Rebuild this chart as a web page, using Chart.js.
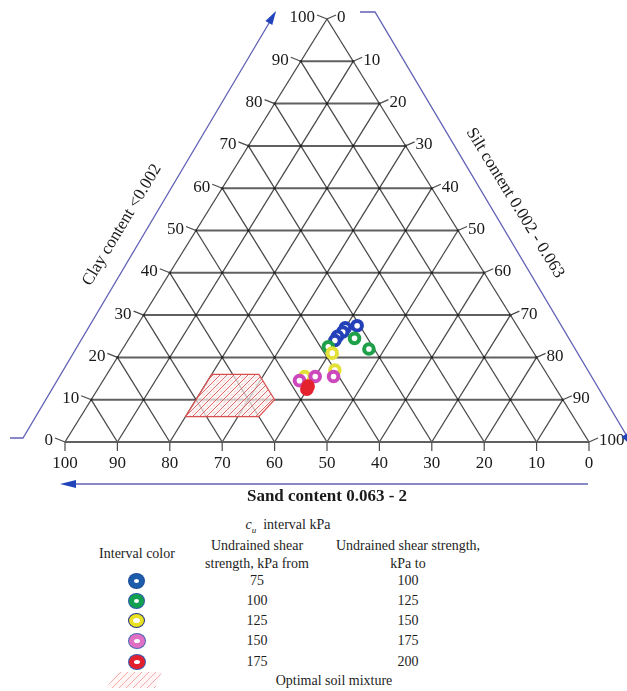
<!DOCTYPE html>
<html><head><meta charset="utf-8">
<script src="https://cdn.jsdelivr.net/npm/chart.js@4.4.0/dist/chart.umd.min.js"></script>
<style>
html,body{margin:0;padding:0;background:#fff;}
#wrap{position:relative;width:627px;height:691px;overflow:hidden;font-family:"Liberation Serif","Times New Roman",serif;color:#1e1e1e;}
#box{position:absolute;left:0;top:0;width:627px;height:510px;}
.t{position:absolute;width:300px;text-align:center;font-size:14px;line-height:16px;white-space:nowrap;}
.ring{position:absolute;border-radius:50%;box-sizing:content-box;background:#fff;}
</style></head><body>
<div id="wrap">
<div id="box"><canvas id="cv" width="627" height="510"></canvas></div>
<div id="legend"></div>
</div>
<script>
// ---------- data ----------
const clayTicks = [0,10,20,30,40,50,60,70,80,90,100];
const siltTicks = [0,10,20,30,40,50,60,70,80,90,100];
const sandTicks = [100,90,80,70,60,50,40,30,20,10,0];
const gridSteps = [10,20,30,40,50,60,70,80,90];

const blueSand = [30.5, 33, 34, 35.5, 36.5];
const blueClay = [27.5, 27, 26, 25, 24];
const greenSand = [32.5, 31, 38.5];
const greenClay = [24.5, 22, 22.5];
const yellowSand = [38.5, 40, 46.5];
const yellowClay = [21, 17, 15.5];
const magentaSand = [48, 44.5, 41];
const magentaClay = [14.5, 15.5, 15.5];
const redSand = [47.6, 47.0];
const redClay = [12.5, 13.2];

const optimalSand = [64, 55, 55, 60, 74];
const optimalClay = [16, 16, 10, 6, 6];

const legendFrom = [75, 100, 125, 150, 175];
const legendTo = [100, 125, 150, 175, 200];

// ---------- helpers ----------
function P(sand, clay){ return {x: 100 - sand - clay/2, y: clay}; }

const colors = {blue:'#2340b8', green:'#1ea04a', yellow:'#e4e03a', magenta:'#cc48bc', red:'#e3222e'};
const series = [
  {sand: redSand, clay: redClay, color: colors.red, fill: colors.red},
  {sand: magentaSand, clay: magentaClay, color: colors.magenta, fill: '#fff'},
  {sand: yellowSand, clay: yellowClay, color: colors.yellow, fill: '#fff'},
  {sand: greenSand, clay: greenClay, color: colors.green, fill: '#fff'},
  {sand: blueSand, clay: blueClay, color: colors.blue, fill: '#fff'}
];

const cv = document.getElementById('cv');
function makePattern(){
  const c = document.createElement('canvas'); c.width = 7; c.height = 7;
  const g = c.getContext('2d');
  g.fillStyle = 'rgba(255,242,242,0.7)'; g.fillRect(0,0,7,7);
  g.strokeStyle = 'rgba(214,80,80,0.85)'; g.lineWidth = 1;
  g.beginPath();
  g.moveTo(0,7); g.lineTo(7,0);
  g.moveTo(-1,1); g.lineTo(1,-1);
  g.moveTo(6,8); g.lineTo(8,6);
  g.stroke();
  g.strokeStyle = 'rgba(170,140,150,0.45)';
  g.setLineDash([2,2]);
  g.beginPath(); g.moveTo(0,3.5); g.lineTo(3.5,0); g.moveTo(3.5,7); g.lineTo(7,3.5); g.stroke();
  return cv.getContext('2d').createPattern(c, 'repeat');
}

const datasets = [];
series.forEach(s => {
  datasets.push({
    data: s.sand.map((v,i) => P(v, s.clay[i])),
    showLine: false, pointRadius: 4.8, pointHoverRadius: 4.8,
    pointBorderWidth: 4, pointBorderColor: s.color, pointBackgroundColor: s.fill,
    order: 0, clip: false
  });
});
const poly = optimalSand.map((v,i) => P(v, optimalClay[i]));
poly.push(poly[0]);
datasets.push({
  data: poly, showLine: true, fill: 'shape', backgroundColor: makePattern(),
  borderColor: '#d65050', borderWidth: 1.2, pointRadius: 0, tension: 0, order: 1, clip: false
});
function gridLine(a, b, horiz){
  datasets.push({data:[a,b], showLine:true, borderColor: horiz ? '#606060' : '#4a4a4a',
    borderWidth: horiz ? 2 : 1.3, pointRadius:0, fill:false, order:2, clip:false});
}
// edges
gridLine({x:0,y:0},{x:100,y:0}, true);
gridLine({x:0,y:0},{x:50,y:100}, false);
gridLine({x:100,y:0},{x:50,y:100}, false);
gridSteps.forEach(k => {
  gridLine({x:k/2, y:k}, {x:100-k/2, y:k}, true);        // clay = k
  gridLine(P(k, 0), P(k, 100-k), false);                 // sand = k
  gridLine({x:k, y:0}, {x:(100+k)/2, y:100-k}, false);   // silt = k
});
// intersection dots
const dots = [];
gridSteps.forEach(c => { for (let s = 0; s <= 100 - c; s += 10) dots.push({x: s + c/2, y: c}); });
datasets.push({data: dots, showLine:false, pointRadius:1.3, pointBackgroundColor:'#222', pointBorderWidth:0, order:1.5, clip:false});

function arrowHead(ctx, x1, y1, x2, y2, len, half){
  const a = Math.atan2(y2-y1, x2-x1);
  ctx.beginPath();
  ctx.moveTo(x2, y2);
  ctx.lineTo(x2 - len*Math.cos(a) + half*Math.sin(a), y2 - len*Math.sin(a) - half*Math.cos(a));
  ctx.lineTo(x2 - len*Math.cos(a) - half*Math.sin(a), y2 - len*Math.sin(a) + half*Math.cos(a));
  ctx.closePath(); ctx.fill();
}

const decor = {
  id: 'decor',
  afterDatasetsDraw(chart){
    const ctx = chart.ctx, X = chart.scales.x, Y = chart.scales.y;
    const px = (s,c) => [X.getPixelForValue(100 - s - c/2), Y.getPixelForValue(c)];
    ctx.save();
    const seg = (a,b,c,d) => { ctx.beginPath(); ctx.moveTo(a,b); ctx.lineTo(c,d); ctx.stroke(); };
    ctx.strokeStyle = '#4a4a4a'; ctx.lineWidth = 1.2;
    ctx.fillStyle = '#1a1a1a'; ctx.font = '17px "Liberation Serif"'; ctx.textBaseline = 'middle';
    // left: clay
    clayTicks.forEach(c => {
      const [x,y] = px(100 - c, c);
      seg(x, y, x - 10, y - 4);
      ctx.textAlign = 'right'; ctx.fillText(String(c), x - 12, y - 1);
    });
    // right: silt
    siltTicks.forEach(k => {
      const [x,y] = px(0, 100 - k);
      seg(x, y, x + 9, y - 4);
      ctx.textAlign = 'left'; ctx.fillText(String(k), x + 10, y - 1);
    });
    // bottom: sand
    sandTicks.forEach(k => {
      const [x,y] = px(k, 0);
      seg(x, y, x, y + 9);
      ctx.textAlign = 'center'; ctx.fillText(String(k), x, y + 22);
    });
    // arrows
    ctx.strokeStyle = '#6262b6'; ctx.lineWidth = 1.3; ctx.fillStyle = '#2244bb';
    ctx.beginPath(); ctx.moveTo(10, 438); ctx.lineTo(23, 438); ctx.lineTo(275, 13); ctx.stroke();
    arrowHead(ctx, 23, 438, 276, 11, 14, 4);
    ctx.beginPath(); ctx.moveTo(360, 12); ctx.lineTo(375, 12); ctx.lineTo(634, 448); ctx.stroke();
    arrowHead(ctx, 375, 12, 634, 448, 16, 5);
    ctx.beginPath(); ctx.moveTo(588, 484); ctx.lineTo(66, 484); ctx.stroke();
    arrowHead(ctx, 588, 484, 60, 484, 16, 4);
    // axis titles
    ctx.fillStyle = '#1a1a1a'; ctx.textAlign = 'center';
    ctx.font = '17px "Liberation Serif"';
    ctx.save(); ctx.translate(122, 225); ctx.rotate(-59 * Math.PI/180); ctx.fillText('Clay content <0.002', 0, 0); ctx.restore();
    ctx.save(); ctx.translate(515, 203); ctx.rotate(58.5 * Math.PI/180); ctx.fillText('Silt content 0.002 - 0.063', 0, 0); ctx.restore();
    ctx.font = 'bold 17px "Liberation Serif"';
    ctx.fillText('Sand content 0.063 - 2', 327, 497);
    ctx.restore();
  }
};

new Chart(cv, {
  type: 'scatter',
  data: {datasets},
  options: {
    responsive: false, animation: false, devicePixelRatio: 1,
    layout: {padding: {left: 65, right: 38, top: 19, bottom: 68}},
    scales: {
      x: {type:'linear', min:0, max:100, display:false},
      y: {type:'linear', min:0, max:100, display:false}
    },
    plugins: {legend:{display:false}, tooltip:{enabled:false}},
    events: []
  },
  plugins: [decor]
});

// ---------- legend table ----------
const L = document.getElementById('legend');
function txt(html, cx, cy, size){
  const d = document.createElement('div'); d.className = 't';
  d.style.left = (cx - 150) + 'px'; d.style.top = (cy - 8) + 'px';
  if (size) d.style.fontSize = size + 'px';
  d.innerHTML = html; L.appendChild(d);
}
txt('<i>c</i><sub style="font-size:9px"><i>u</i></sub>&nbsp; interval kPa', 288, 525);
txt('Interval color', 137, 554);
txt('Undrained shear', 257, 546);
txt('strength, kPa from', 257, 564);
txt('Undrained shear strength,', 408, 546);
txt('kPa to', 408, 564);
const rowY = [581, 601, 621, 641, 662];
const ringStyle = [
  {c:'#1d5caa', o:'#1d4f9a', w:5, h:4, b:5.5},
  {c:'#12a050', o:'#2a58a8', w:5, h:4, b:5.5},
  {c:'#e8e020', o:'#2a3a80', w:7, h:5, b:4.5},
  {c:'#e070c4', o:'#4a66b4', w:6, h:4, b:5},
  {c:'#e2202e', o:'#3a5cb0', w:6, h:4, b:5}
];
legendFrom.forEach((v,i) => {
  txt(String(v), 257, rowY[i]);
  txt(String(legendTo[i]), 408, rowY[i]);
  const s = ringStyle[i];
  const r = document.createElement('div'); r.className = 'ring';
  r.style.width = s.w + 'px'; r.style.height = s.h + 'px';
  r.style.border = s.b + 'px solid ' + s.c;
  r.style.boxShadow = '0 0 0 1px ' + s.o;
  r.style.left = (137 - s.w/2 - s.b) + 'px'; r.style.top = (rowY[i] - s.h/2 - s.b) + 'px';
  L.appendChild(r);
});
const hz = document.createElement('div');
hz.style.cssText = 'position:absolute;left:106px;top:672px;width:57px;height:16px;' +
  'clip-path:polygon(12px 0,56px 0,49px 16px,0 16px);' +
  'background:repeating-linear-gradient(135deg, rgba(240,160,160,0.9) 0 1px, rgba(255,246,246,1) 1px 5px);';
L.appendChild(hz);
txt('Optimal soil mixture', 334, 681);
</script>
</body></html>
